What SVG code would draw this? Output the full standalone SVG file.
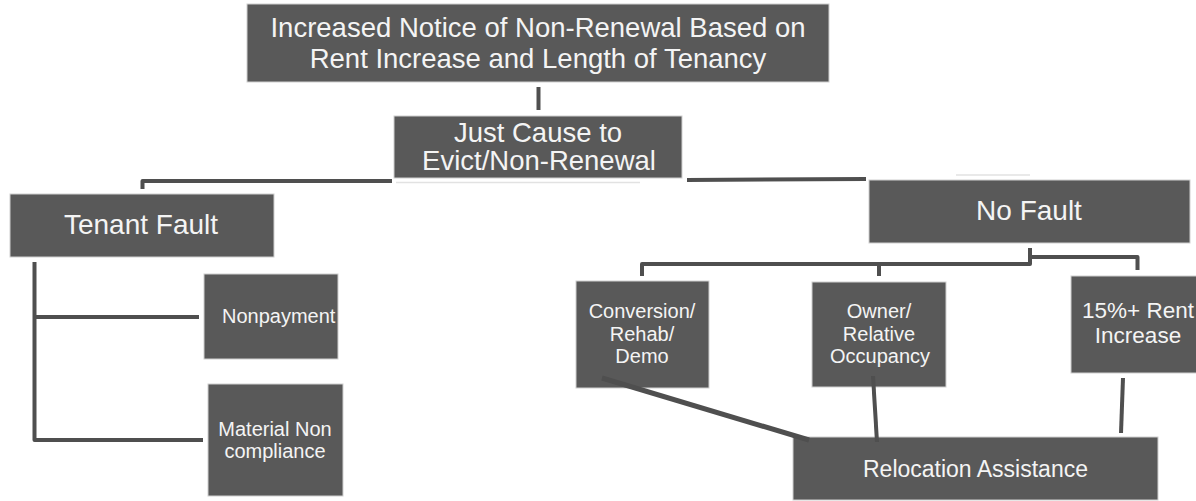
<svg xmlns="http://www.w3.org/2000/svg" width="1196" height="501" viewBox="0 0 1196 501">
<style>
.box{fill:#595959;stroke:#d0d0d0;stroke-width:1}
.t{fill:#f4f4f4;font-family:"Liberation Sans",Arial,sans-serif;text-anchor:middle}
.c{fill:none;stroke:#4f4f4f;stroke-width:4;stroke-linejoin:round}
.f{fill:none;stroke:#e2e2e2;stroke-width:1.5}
</style>
<rect width="1196" height="501" fill="#ffffff"/>
<g id="top">
<rect class="box" x="247" y="4" width="582" height="78"/>
<text class="t" x="538" y="37" font-size="27.5">Increased Notice of Non-Renewal Based on</text>
<text class="t" x="538" y="68" font-size="27.5">Rent Increase and Length of Tenancy</text>
</g>
<g id="just-cause">
<rect class="box" x="394" y="116" width="288" height="62"/>
<text class="t" x="538" y="142" font-size="27.5">Just Cause to</text>
<text class="t" x="539" y="170" font-size="27.5">Evict/Non-Renewal</text>
</g>
<g id="tenant-fault">
<rect class="box" x="10" y="194" width="264" height="63"/>
<text class="t" x="141" y="234" font-size="28">Tenant Fault</text>
</g>
<g id="no-fault">
<rect class="box" x="869" y="180" width="321" height="63"/>
<text class="t" x="1029" y="220" font-size="28">No Fault</text>
</g>
<g id="nonpayment">
<rect class="box" x="204" y="274" width="134" height="85"/>
<text class="t" x="222" y="323" font-size="20" style="text-anchor:start">Nonpayment</text>
</g>
<g id="material">
<rect class="box" x="208" y="384" width="135" height="112"/>
<text class="t" x="275" y="436" font-size="20">Material Non</text>
<text class="t" x="275" y="458" font-size="20">compliance</text>
</g>
<g id="conversion">
<rect class="box" x="576" y="281" width="133" height="107"/>
<text class="t" x="642" y="318" font-size="20">Conversion/</text>
<text class="t" x="642" y="341" font-size="20">Rehab/</text>
<text class="t" x="642" y="363" font-size="20">Demo</text>
</g>
<g id="owner">
<rect class="box" x="812" y="282" width="134" height="105"/>
<text class="t" x="879" y="318" font-size="20">Owner/</text>
<text class="t" x="879" y="341" font-size="20">Relative</text>
<text class="t" x="880" y="363" font-size="20">Occupancy</text>
</g>
<g id="rent-increase">
<rect class="box" x="1071" y="276" width="134" height="97"/>
<text class="t" x="1138" y="318" font-size="22.5">15%+ Rent</text>
<text class="t" x="1138" y="343" font-size="22.5">Increase</text>
</g>
<g id="relocation">
<rect class="box" x="793" y="437" width="365" height="63"/>
<text class="t" x="975.5" y="477" font-size="23">Relocation Assistance</text>
</g>
<g id="connectors">
<path class="c" d="M538.5,87 V110"/>
<path class="c" d="M142.5,189 V181 H392"/>
<path class="c" d="M687,180 L866,179"/>
<path class="c" d="M34.5,262 V440 H203"/>
<path class="c" d="M34.5,317 H199"/>
<path class="c" d="M1030,248 V264 H642 V276"/>
<path class="c" d="M879,264 V276"/>
<path class="c" d="M1030,257 H1137.5 V270"/>
<path class="c" d="M602,378 L809,440" style="stroke-width:5"/>
<path class="c" d="M873,376 L877,442"/>
<path class="c" d="M1123,378 L1121,433"/>
<path class="f" d="M396,182.5 H640"/>
<path class="f" d="M956,175 H1030"/>
</g>
</svg>
